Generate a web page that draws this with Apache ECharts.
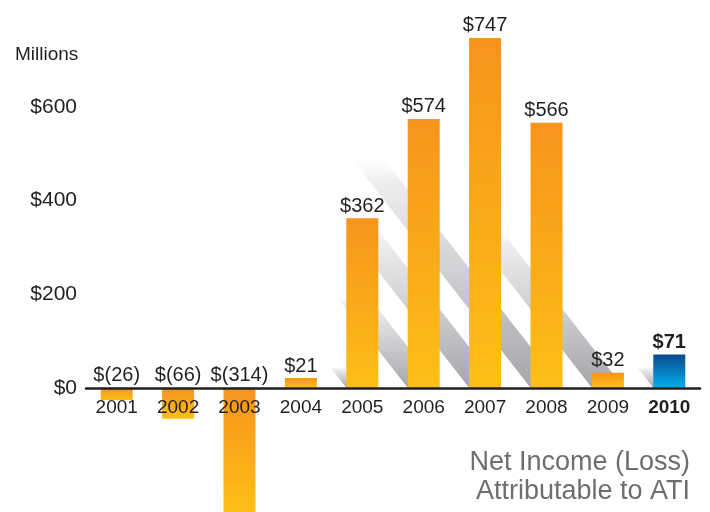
<!DOCTYPE html>
<html>
<head>
<meta charset="utf-8">
<script src="https://cdn.jsdelivr.net/npm/echarts@6/dist/echarts.min.js"></script>
<style>
  html, body { margin: 0; padding: 0; background: #fff; }
  #chart { width: 710px; height: 512px; }
</style>
</head>
<body>
<div id="chart"></div>
<script>
// data (millions of dollars)
const years = ['2001', '2002', '2003', '2004', '2005', '2006', '2007', '2008', '2009', '2010'];
const netIncome = [-26, -66, -314, 21, 362, 574, 747, 566, 32, 71];
const valueLabels = ['$(26)', '$(66)', '$(314)', '$21', '$362', '$574', '$747', '$566', '$32', '$71'];
const yTicks = [0, 200, 400, 600];
// decorative diagonal shadow lengths behind the bars (axis units)
const shadowLen = [0, 0, 0, 0, 45, 200, 350, 495, 345, 45];

const FONT = '"Liberation Sans", Arial, sans-serif';
const TEXT = '#231f20';
const H = 512;

const chartDom = document.getElementById('chart');
const myChart = echarts.init(chartDom);

const orange = new echarts.graphic.LinearGradient(0, 0, 0, 1, [
    { offset: 0, color: '#f7941d' },
    { offset: 1, color: '#fdbf16' }
]);
const blue = new echarts.graphic.LinearGradient(0, 0, 0, 1, [
    { offset: 0, color: '#0a4a8c' },
    { offset: 1, color: '#00aeef' }
]);

const barData = netIncome.map((v, i) => {
    const last = i === years.length - 1;
    return {
        value: v,
        itemStyle: { color: last ? blue : orange },
        label: { fontWeight: last ? 'bold' : 'normal' }
    };
});

const shadowData = shadowLen.map((v, i) => [i, v]);

const option = {
    animation: false,
    grid: { left: 86, right: 10, top: 0, bottom: 0, containLabel: false, outerBoundsMode: 'none' },
    xAxis: {
        type: 'category',
        data: years,
        axisLine: { onZero: false, lineStyle: { color: TEXT, width: 2.5 } },
        axisTick: { show: false },
        axisLabel: {
            interval: 0,
            margin: 10,
            fontFamily: FONT,
            fontSize: 19,
            color: TEXT,
            formatter: (v) => v === '2010' ? '{b|' + v + '}' : v,
            rich: { b: { fontFamily: FONT, fontSize: 19, color: TEXT, fontWeight: 'bold' } }
        },
        z: 5
    },
    yAxis: {
        type: 'value',
        min: -265,
        max: 828,
        axisLine: { show: false },
        axisTick: { show: false },
        splitLine: { show: false },
        axisLabel: {
            margin: 9,
            fontFamily: FONT,
            fontSize: 21,
            color: TEXT,
            formatter: (v) => yTicks.includes(v) ? '$' + v : ''
        }
    },
    graphic: [
        {
            type: 'text', x: 15, y: 55,
            style: { text: 'Millions', font: '19px ' + FONT, fill: TEXT, align: 'left', verticalAlign: 'middle' }
        },
        {
            type: 'text', x: 690, y: 463,
            style: { text: 'Net Income (Loss)', font: '27px ' + FONT, fill: '#6d6e71', align: 'right', verticalAlign: 'middle' }
        },
        {
            type: 'text', x: 690, y: 492,
            style: { text: 'Attributable to ATI', font: '27px ' + FONT, fill: '#6d6e71', align: 'right', verticalAlign: 'middle' }
        }
    ],
    series: [
        {
            type: 'custom',
            z: 1,
            silent: true,
            data: shadowData,
            renderItem: function (params, api) {
                const len = api.value(1);
                if (!len) return null;
                const base = api.coord([api.value(0), 0]);
                const h = api.size([0, len])[1];
                const w = 32;
                const dx = h * 0.78;
                const xL = base[0] - w / 2, xR = base[0] + w / 2, y0 = base[1];
                return {
                    type: 'polygon',
                    shape: { points: [[xL, y0], [xR, y0], [xR - dx, y0 - h], [xL - dx, y0 - h]] },
                    style: {
                        fill: new echarts.graphic.LinearGradient(0, 1, 0, 0, [
                            { offset: 0, color: '#a4a6a9' },
                            { offset: 0.55, color: '#d3d4d6' },
                            { offset: 0.9, color: '#eeeff0' },
                            { offset: 1, color: 'rgba(255,255,255,0)' }
                        ])
                    }
                };
            }
        },
        {
            type: 'bar',
            z: 2,
            barWidth: 32,
            data: barData,
            label: {
                show: true,
                position: 'top',
                distance: 2,
                fontFamily: FONT,
                fontSize: 20,
                color: TEXT,
                formatter: (p) => valueLabels[p.dataIndex]
            }
        }
    ]
};

myChart.setOption(option);

// move the category axis (line + labels) up to the $0 level of the value axis
const zeroY = myChart.convertToPixel({ yAxisIndex: 0 }, 0);
myChart.setOption({ xAxis: { offset: -(H - zeroY) } });
</script>
</body>
</html>
